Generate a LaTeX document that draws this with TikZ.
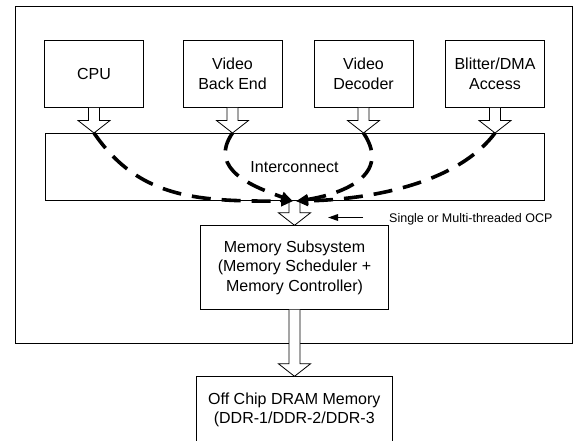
\documentclass[tikz,border=0pt]{standalone}
\usepackage{fontspec}
\setmainfont{Liberation Sans}
\usetikzlibrary{calc,arrows.meta}

\newcommand{\hollowarrow}[2]{%
  \draw[hollow] let \p1=(#1), \p2=(#2) in
    ({\x1-5.5pt},\y1) -- ({\x1-5.5pt},{\y2+12.5pt}) -- ({\x1-16pt},{\y2+12.5pt})
    -- (\x1,\y2) -- ({\x1+16pt},{\y2+12.5pt}) -- ({\x1+5.5pt},{\y2+12.5pt})
    -- ({\x1+5.5pt},\y1);}

\begin{document}
\begin{tikzpicture}[x=1pt,y=1pt,
  box/.style={draw, line width=0.8pt, fill=white, align=center,
    font=\fontsize{16}{19.5}\selectfont},
  unit/.style={box, minimum width=99pt, minimum height=67pt},
  hollow/.style={draw, line width=0.8pt, fill=white},
  flow/.style={line width=3.6pt, dash pattern=on 19pt off 11pt,
    -{Triangle[length=12pt,width=10pt]}},
  pointer/.style={line width=1.6pt, -{Triangle[length=10pt,width=6.5pt]}},
  note/.style={inner sep=0pt, font=\fontsize{12.5}{15}\selectfont}]
\useasboundingbox (0,0) rectangle (575,-440);
\draw[line width=0.8pt] (15.7,-6.7) rectangle (572.7,-343.3);
\foreach \u/\x/\t in {cpu/94/CPU, vbe/232.5/{Video\\Back End},
    vdec/363.5/{Video\\Decoder}, blit/495/{Blitter/DMA\\Access}}{
  \node[unit] (\u) at (\x,-74) {\t};
  \coordinate (\u-tip) at (\u.south |- 0,-133);
}
\node[box, minimum width=499pt, minimum height=67.7pt] (ic) at (294.5,-166.9) {Interconnect};
\node[box, minimum width=187.6pt, minimum height=83.6pt] (mem) at (294.5,-267.5)
  {Memory Subsystem\\(Memory Scheduler +\\Memory Controller)};
\node[box, minimum width=196.7pt, minimum height=66pt] (dram) at (294.3,-409.7)
  {Off Chip DRAM Memory\\(DDR-1/DDR-2/DDR-3};
\node[note, anchor=base west] (ocp) at (389,-222) {Single or Multi-threaded OCP};
\coordinate (ocptip) at (328,-217.5);
\foreach \u in {cpu,vbe,vdec,blit}{
  \hollowarrow{\u.south}{\u-tip}
}
\hollowarrow{ic.south}{mem.north}
\hollowarrow{mem.south}{dram.north}
\draw[flow] (cpu-tip) .. controls +(46,-67) and +(-93,0) .. ([xshift=-1.5pt]ic.south);
\draw[flow] (vbe-tip) .. controls +(-25.5,-37) and +(-38,14) .. ([xshift=-1.5pt]ic.south);
\draw[flow] (vdec-tip) .. controls +(31.5,-47) and +(34,5) .. ([xshift=1.5pt]ic.south);
\draw[flow] (blit-tip) .. controls +(-35,-47) and +(84,2) .. ([xshift=1.5pt]ic.south);
\draw[pointer] ([xshift=-26pt]ocp.west |- ocptip) -- (ocptip);
\end{tikzpicture}
\end{document}
